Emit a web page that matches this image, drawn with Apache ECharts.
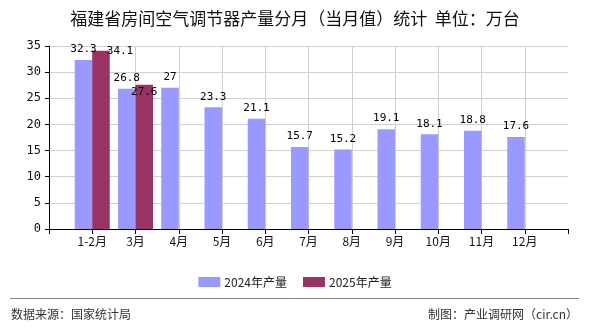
<!DOCTYPE html>
<html>
<head>
<meta charset="utf-8">
<script src="https://cdn.jsdelivr.net/npm/echarts@6/dist/echarts.min.js"></script>
<style>
  html, body { margin: 0; padding: 0; background: #fff; }
  #chart { width: 590px; height: 330px; }
</style>
</head>
<body>
<div id="chart"></div>
<script>
// Monthly output (当月值), unit: 万台
const months = ['1-2月', '3月', '4月', '5月', '6月', '7月', '8月', '9月', '10月', '11月', '12月'];
const output2024 = [32.3, 26.8, 27, 23.3, 21.1, 15.7, 15.2, 19.1, 18.1, 18.8, 17.6];
const output2025 = [34.1, 27.6];
const seriesNames = ['2024年产量', '2025年产量'];
const yTicks = { min: 0, max: 35, interval: 5 };

// Categories sit on the ticks, with an empty slot at each end of the axis
const axisCats = [''].concat(months, ['']);
const pad = (arr) => [null].concat(months.map((_, i) => (i < arr.length ? arr[i] : null)), [null]);

const cjk = "'Noto Sans CJK SC', sans-serif";
const mono = "'DejaVu Sans Mono', monospace";

const data2024 = pad(output2024).map(v => v == null ? null : { value: v });
const data2025 = pad(output2025).map((v, i) => {
  if (v == null) return null;
  const item = { value: v };
  if (i === 1) item.label = { offset: [19, 11] };
  if (i === 2) item.label = { position: 'insideTop', distance: 2 };
  return item;
});

const chart = echarts.init(document.getElementById('chart'), null, { renderer: 'canvas' });
chart.setOption({
  animation: false,
  backgroundColor: '#fff',
  title: {
    text: '福建省房间空气调节器产量分月（当月值）统计  单位：万台',
    left: 'center',
    top: 5,
    textStyle: { fontFamily: cjk, fontSize: 17, fontWeight: 'normal', color: '#111' }
  },
  legend: {
    data: seriesNames,
    left: 'center',
    top: 271,
    itemWidth: 22,
    itemHeight: 10,
    itemGap: 16,
    icon: 'rect',
    textStyle: { fontFamily: cjk, fontSize: 12, color: '#222', padding: [0, 0, 0, -1] }
  },
  grid: { left: 49, right: 22, top: 46, bottom: 101, containLabel: false },
  xAxis: {
    type: 'category',
    data: axisCats,
    boundaryGap: false,
    axisLine: { lineStyle: { color: '#000', width: 1 } },
    axisTick: { show: true, length: 5, lineStyle: { color: '#000' }, interval: 0 },
    axisLabel: { interval: 0, margin: 6, fontFamily: cjk, fontSize: 12, color: '#111' },
    splitLine: {
      show: true,
      interval: (idx) => idx > 0 && idx < axisCats.length - 1,
      lineStyle: { color: '#d0d0d0', width: 1 }
    }
  },
  yAxis: {
    type: 'value',
    min: yTicks.min,
    max: yTicks.max,
    interval: yTicks.interval,
    axisLine: { show: true, lineStyle: { color: '#000', width: 1 } },
    axisTick: { show: true, length: 4, lineStyle: { color: '#000' } },
    axisLabel: { margin: 8, fontFamily: mono, fontSize: 12, color: '#111' },
    splitLine: { show: true, lineStyle: { color: '#d0d0d0', width: 1 } }
  },
  series: [
    {
      name: seriesNames[0],
      type: 'bar',
      data: data2024,
      barWidth: 17.5,
      barGap: 0,
      itemStyle: { color: '#9999FF' },
      label: { show: true, position: 'top', distance: 5, fontFamily: mono, fontSize: 11, color: '#000' }
    },
    {
      name: seriesNames[1],
      type: 'bar',
      data: data2025,
      barWidth: 17.5,
      barGap: 0,
      itemStyle: { color: '#993366' },
      label: { show: true, position: 'top', distance: 5, fontFamily: mono, fontSize: 11, color: '#000' }
    }
  ],
  graphic: [
    { type: 'line', shape: { x1: 10, y1: 298.5, x2: 579, y2: 298.5 }, style: { stroke: '#888', lineWidth: 1 } },
    { type: 'text', left: 11, top: 308, style: { text: '数据来源：国家统计局', font: "12px 'Noto Sans CJK SC'", fill: '#333' } },
    { type: 'text', right: 12, top: 308, style: { text: '制图：产业调研网（cir.cn）', font: "12px 'Noto Sans CJK SC'", fill: '#333' } }
  ]
});
</script>
</body>
</html>
